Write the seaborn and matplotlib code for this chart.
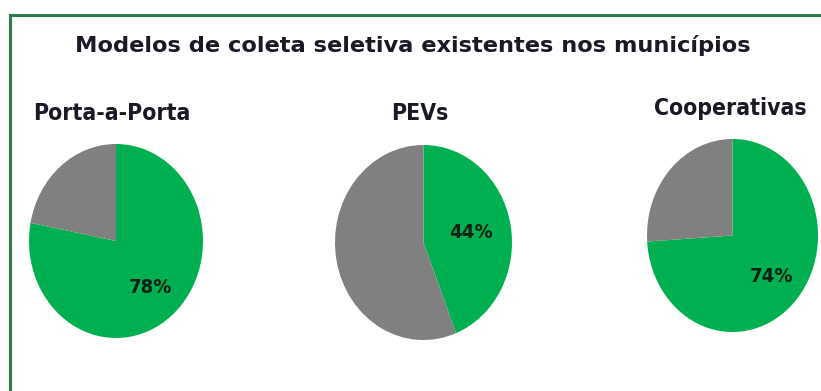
import matplotlib
matplotlib.use("Agg")
import matplotlib.pyplot as plt
from matplotlib.patches import Rectangle
import seaborn as sns

# Share of municipalities using each selective collection model (%)
models = ["Porta-a-Porta", "PEVs", "Cooperativas"]
with_model = [78, 44, 74]
title = "Modelos de coleta seletiva existentes nos municípios"

sns.set_theme(style="white")
plt.rcParams["font.family"] = ["DejaVu Sans"]

green = "#00b050"
gray = "#808080"
text_dark = "#1a1a26"
frame_green = "#2f7d4f"

W, H = 821, 391
fig = plt.figure(figsize=(W / 100, H / 100), dpi=100)

# frame around the panel (left and top edges visible, right/bottom run off the canvas)
fig.patches.append(Rectangle((9.5 / W, -0.1), 1.2, 1.1 - 15 / H,
                             transform=fig.transFigure, fill=False,
                             edgecolor=frame_green, linewidth=2.2, zorder=0))

fig.text(413 / W, 1 - 46 / H, title, ha="center", va="center",
         fontsize=16.2, fontweight="bold", color=text_dark)

# axes boxes in pixels: left, top, right, bottom
boxes = [(29, 144, 203, 338), (335, 145, 512, 340), (647, 139, 818, 332)]
label_pos = [(112, 113), (420, 113), (730, 108)]
pct_dist = [0.62, 0.55, 0.62]

for name, val, (x0, y0, x1, y1), (lx, ly), pd_ in zip(models, with_model, boxes,
                                                      label_pos, pct_dist):
    ax = fig.add_axes([x0 / W, 1 - y1 / H, (x1 - x0) / W, (y1 - y0) / H])
    wedges, texts, autotexts = ax.pie(
        [val, 100 - val], colors=[green, gray], startangle=90, counterclock=False,
        autopct="%.0f%%", pctdistance=pd_, radius=1.0,
        wedgeprops=dict(linewidth=0, antialiased=True),
        textprops=dict(fontstretch="condensed", fontweight="bold",
                       fontsize=14.5, color="#0f1f14"),
    )
    autotexts[1].set_text("")
    ax.set_aspect("auto")
    ax.set_xlim(-1, 1)
    ax.set_ylim(-1, 1)
    ax.axis("off")
    fig.text(lx / W, 1 - ly / H, name, ha="center", va="center",
             fontstretch="condensed", fontsize=16.5, fontweight="bold", color=text_dark)

fig.savefig("out.png", dpi=100, facecolor="white")
